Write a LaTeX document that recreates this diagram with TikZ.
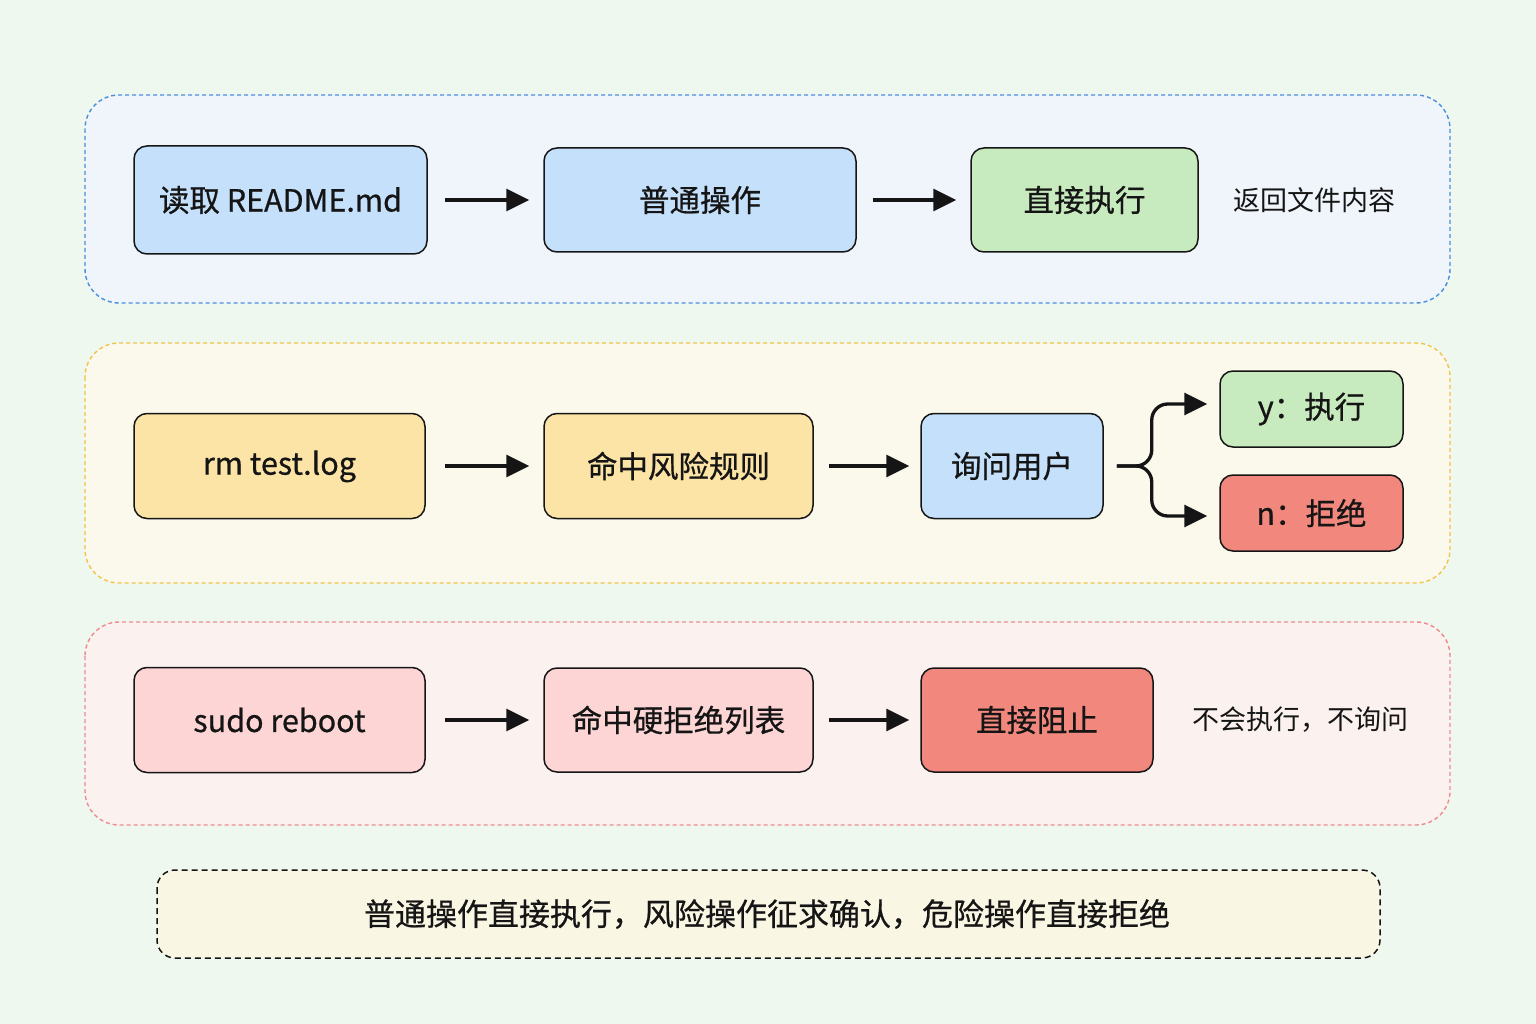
\documentclass[tikz,border=0pt]{standalone}
\usepackage{fontspec}
\setmainfont{Noto Sans CJK SC}
\newfontfamily\medfont{Noto Sans CJK SC}[FakeBold=0.7]
\usetikzlibrary{arrows.meta,calc}
\definecolor{bgc}{HTML}{EEF8EE}
\definecolor{pbluefill}{HTML}{EFF5FA}
\definecolor{pbluedraw}{HTML}{4A8FE0}
\definecolor{pyelfill}{HTML}{FBF9EC}
\definecolor{pyeldraw}{HTML}{F3C24A}
\definecolor{predfill}{HTML}{FBF2F0}
\definecolor{preddraw}{HTML}{EE8A92}
\definecolor{pnotefill}{HTML}{FAF6E4}
\definecolor{cblue}{HTML}{C5E0FA}
\definecolor{cgreen}{HTML}{C7EBBE}
\definecolor{cyellow}{HTML}{FCE4A6}
\definecolor{cpink}{HTML}{FDD5D5}
\definecolor{cred}{HTML}{F2887D}
\definecolor{ink}{HTML}{151515}
\tikzset{
  panel/.style={rounded corners=34pt, dashed, line width=1.4pt, dash pattern=on 4pt off 3pt},
  box/.style={draw=ink, line width=1.5pt, rounded corners=13pt, text=ink, font=\medfont\fontsize{30.5}{36}\selectfont, inner sep=0pt},
  lbl/.style={text=ink, font=\fontsize{27}{32}\selectfont},
  arr/.style={draw=ink, line width=3.3pt, -{Triangle[length=23pt,width=22pt]}},
}
\begin{document}
\begin{tikzpicture}[x=1pt,y=-1pt]
\fill[bgc] (0,0) rectangle (1536,1024);
\useasboundingbox (0,0) rectangle (1536,1024);
% panels
\draw[panel, draw=pbluedraw, fill=pbluefill] (85,95) rectangle (1450,303);
\draw[panel, draw=pyeldraw, fill=pyelfill] (85,343) rectangle (1450,583);
\draw[panel, draw=preddraw, fill=predfill] (85,622) rectangle (1450,825);
\draw[rounded corners=18pt, dashed, line width=1.5pt, dash pattern=on 6pt off 4pt, draw=ink, fill=pnotefill] (157,870) rectangle (1380,958);
% row 1
\node[box, fill=cblue, minimum width=293pt, minimum height=108pt] (a1) at (280.5,200) {读取 README.md};
\node[box, fill=cblue, minimum width=312pt, minimum height=104pt] (a2) at (700,200) {普通操作};
\node[box, fill=cgreen, minimum width=227pt, minimum height=104pt] (a3) at (1084.5,200) {直接执行};
\node[lbl] (a4) at (1314,200) {返回文件内容};
\draw[arr, shorten <=17pt, shorten >=14pt] (a1.east) -- (a2.west);
\draw[arr, shorten <=16pt, shorten >=14pt] (a2.east) -- (a3.west);
% row 2
\node[box, fill=cyellow, minimum width=291pt, minimum height=105pt, text depth=7pt] (b1) at (279.5,466) {rm test.log};
\node[box, fill=cyellow, minimum width=269pt, minimum height=105pt] (b2) at (678.5,466) {命中风险规则};
\node[box, fill=cblue, minimum width=182pt, minimum height=105pt] (b3) at (1012,466) {询问用户};
\node[box, fill=cgreen, minimum width=183pt, minimum height=76pt] (b4) at (1311.5,409) {y：执行};
\node[box, fill=cred, minimum width=183pt, minimum height=76pt] (b5) at (1311.5,513) {n：拒绝};
\draw[arr, shorten <=19pt, shorten >=14pt] (b1.east) -- (b2.west);
\draw[arr, shorten <=15pt, shorten >=11pt] (b2.east) -- (b3.west);
\coordinate (bs) at ($(b3.east)+(13,0)$);
\coordinate (bj) at ($(b3.east)+(48,0)$);
\draw[arr, rounded corners=16pt] (bs) -- (bj) |- ($(b4.west)+(-12,-5)$);
\draw[arr, rounded corners=16pt] (bs) -- (bj) |- ($(b5.west)+(-12,3)$);
% row 3
\node[box, fill=cpink, minimum width=291pt, minimum height=105pt] (c1) at (279.5,720) {sudo reboot};
\node[box, fill=cpink, minimum width=269pt, minimum height=104pt] (c2) at (678.5,720) {命中硬拒绝列表};
\node[box, fill=cred, minimum width=232pt, minimum height=104pt] (c3) at (1037,720) {直接阻止};
\node[lbl] (c4) at (1300,720) {不会执行，不询问};
\draw[arr, shorten <=19pt, shorten >=14pt] (c1.east) -- (c2.west);
\draw[arr, shorten <=15pt, shorten >=11pt] (c2.east) -- (c3.west);
% note
\node[text=ink, font=\medfont\fontsize{31}{36}\selectfont] (n1) at (767,914) {普通操作直接执行，风险操作征求确认，危险操作直接拒绝};
\end{tikzpicture}
\end{document}
